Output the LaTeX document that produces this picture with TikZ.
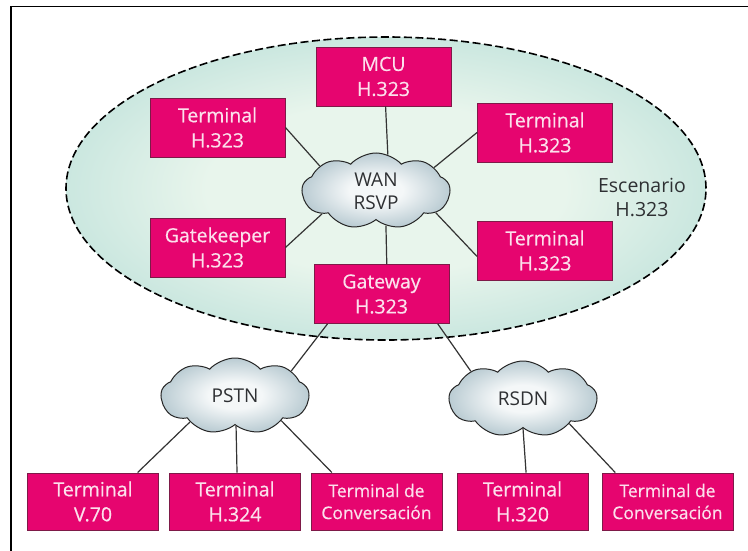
\documentclass[tikz,border=0pt]{standalone}
\usepackage{fontspec}
\setmainfont{Open Sans}
\newfontfamily\boxfont[FakeBold=0.5]{Open Sans}
\usepackage{tikz}
\usetikzlibrary{shapes.geometric,shapes.symbols}
\definecolor{boxpink}{HTML}{E6056F}
\definecolor{boxedge}{HTML}{7E1A48}
\definecolor{boxtext}{HTML}{FCE0EC}
\definecolor{scenlight}{HTML}{E8F5EC}
\definecolor{scenteal}{HTML}{ABD8D2}
\definecolor{cloudlight}{HTML}{F4F7F8}
\definecolor{cloudgrey}{HTML}{9DB6C0}
\definecolor{inktext}{HTML}{2E3033}
\pgfdeclareradialshading{scenshade}{\pgfpoint{0bp}{0bp}}{color(0bp)=(scenlight); color(14bp)=(scenlight); color(37bp)=(scenteal); color(50bp)=(scenteal)}
\pgfdeclareradialshading{cloudshade}{\pgfpoint{0bp}{0bp}}{color(0bp)=(cloudlight); color(9bp)=(cloudlight); color(33bp)=(cloudgrey); color(50bp)=(cloudgrey)}
\tikzset{
  h323box/.style={draw=boxedge,line width=0.9pt,fill=boxpink,text=boxtext,align=center,
    minimum width=135pt,minimum height=59pt,inner sep=0pt,
    font=\boxfont\fontsize{19.5}{25}\selectfont},
  lowbox/.style={h323box,minimum width=131pt,minimum height=57pt},
  talkbox/.style={lowbox,font=\boxfont\fontsize{17.5}{22}\selectfont},
  netcloud/.style={shape=cloud,draw=black!85,line width=1pt,shading=cloudshade,
    cloud puffs=9,cloud puff arc=95,aspect=2,minimum width=148pt,minimum height=76pt,
    inner sep=0pt,align=center,text=inktext,font=\fontsize{19}{23}\selectfont},
  link/.style={draw=black!80,line width=1.2pt}
}
\begin{document}
\begin{tikzpicture}[x=1pt,y=-1pt]
  \useasboundingbox (0,0) rectangle (748,551);
  \fill[white] (0,0) rectangle (748,551);
  \coordinate (framebl) at (11,551);
  \coordinate (frametl) at (11,6.5);
  \coordinate (frametr) at (748,6.5);
  \draw[line width=1.2pt] (framebl) -- (frametl) -- (frametr);
  \node[shape=ellipse,draw,dash pattern=on 8pt off 3.5pt,line width=1.6pt,shading=scenshade,
    minimum width=640pt,minimum height=303pt,inner sep=0pt] (scenario) at (386,188.5) {};
  \node[align=center,text=inktext,font=\fontsize{19.5}{24}\selectfont] (scenlabel) at (642,197) {Escenario\\H.323};

  \node[h323box] (mcu) at (383.5,76.5) {MCU\\H.323};
  \node[h323box] (terma) at (217.5,127.5) {Terminal\\H.323};
  \node[h323box] (gatekeeper) at (217.5,247.5) {Gatekeeper\\H.323};
  \node[h323box] (termb) at (545,132.5) {Terminal\\H.323};
  \node[h323box] (termc) at (545,250.5) {Terminal\\H.323};
  \node[h323box] (gateway) at (381.5,294) {Gateway\\H.323};

  \node[netcloud] (wan) at (376,191) {WAN\\RSVP};
  \node[netcloud] (pstn) at (235,396) {PSTN};
  \node[netcloud] (rsdn) at (523,399) {RSDN};

  \node[lowbox] (v70) at (93,501.5) {Terminal\\V.70};
  \node[lowbox] (h324) at (235,501.5) {Terminal\\H.324};
  \node[talkbox] (talka) at (376.5,501.5) {Terminal de\\Conversación};
  \node[lowbox] (h320) at (522.5,501.5) {Terminal\\H.320};
  \node[talkbox] (talkb) at (667.5,501.5) {Terminal de\\Conversación};

  \draw[link] (terma.east) -- (wan.156);
  \draw[link] (gatekeeper.east) -- (wan.203);
  \draw[link] (mcu.-86) -- (wan.72);
  \draw[link] (gateway.80) -- (wan.-74);
  \draw[link] (termb.west) -- (wan.22);
  \draw[link] (termc.185) -- (wan.-20);
  \draw[link] (gateway.209) -- (pstn.24);
  \draw[link] (gateway.-28) -- (rsdn.152);
  \draw[link] (pstn.210) -- (v70.33);
  \draw[link] (pstn.-88) -- (h324.86);
  \draw[link] (pstn.-28) -- (talka.147);
  \draw[link] (rsdn.-90) -- (h320.83);
  \draw[link] (rsdn.-28) -- (talkb.151);
\end{tikzpicture}
\end{document}
